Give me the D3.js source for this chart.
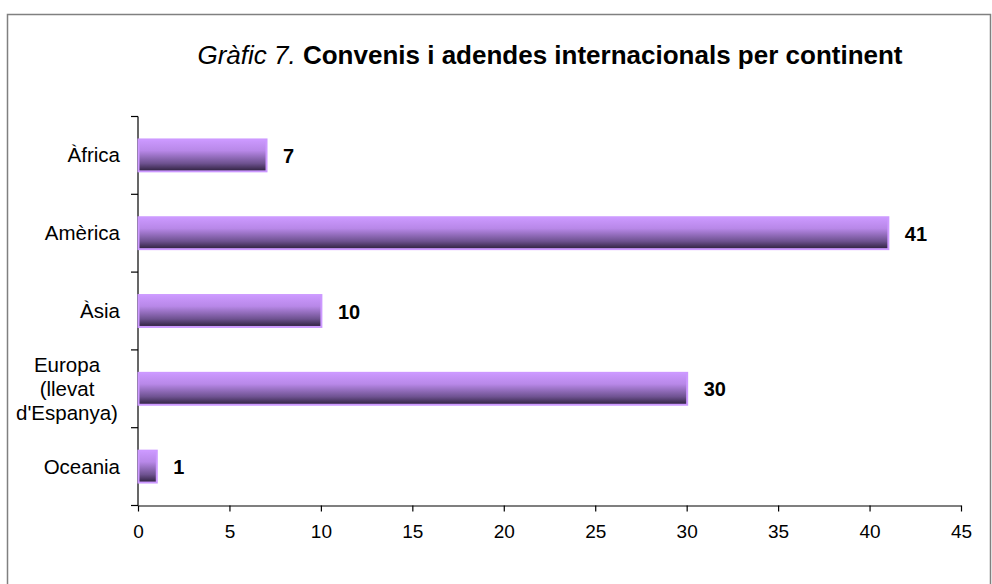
<!DOCTYPE html>
<html>
<head>
<meta charset="utf-8">
<script src="https://cdn.jsdelivr.net/npm/d3@7"></script>
<style>
  body { margin: 0; background: #fff; }
  svg text { font-family: "Liberation Sans", Arial, sans-serif; }
</style>
</head>
<body>
<div id="chart"></div>
<script>
const continents = ["Àfrica", "Amèrica", "Àsia", "Europa (llevat d'Espanya)", "Oceania"];
const agreements = [7, 41, 10, 30, 1];
const labelLines = [["Àfrica"], ["Amèrica"], ["Àsia"], ["Europa", "(llevat", "d'Espanya)"], ["Oceania"]];
const xTicks = [0, 5, 10, 15, 20, 25, 30, 35, 40, 45];

(function() {
    var width = 992, height = 584;
    var left = 138, right = 961, top = 116.5, bottom = 505.5;

    var svg = d3.select("#chart")
    .append("svg")
    .attr("width", width)
    .attr("height", height);

    // outer frame
    svg.append("path")
    .attr("d", "M7.5,584 V14.5 H990.5 V584")
    .attr("fill", "none")
    .attr("stroke", "#808080")
    .attr("stroke-width", 1.5);

    var defs = svg.append("defs");
    var grad = defs.append("linearGradient")
    .attr("id", "barGrad")
    .attr("x1", 0).attr("y1", 0).attr("x2", 0).attr("y2", 1);
    grad.append("stop").attr("offset", "0%").attr("stop-color", "#cc99ff");
    grad.append("stop").attr("offset", "35%").attr("stop-color", "#b888e8");
    grad.append("stop").attr("offset", "75%").attr("stop-color", "#6e5290");
    grad.append("stop").attr("offset", "100%").attr("stop-color", "#2c1f3c");

    var data = continents.map((c, i) => ({name: c, value: agreements[i], lines: labelLines[i]}));

    const xScale = d3.scaleLinear()
    .domain([0, 45])
    .range([left, right]);

    const yScale = d3.scaleBand()
    .domain(continents)
    .range([top, bottom])
    .paddingInner(0.59)
    .paddingOuter(0.295);

    // x axis
    svg.append("g")
    .attr("transform", `translate(0, ${bottom})`)
    .call(d3.axisBottom(xScale).tickValues(xTicks).tickSize(6).tickSizeOuter(0).tickPadding(13))
    .call(g => g.selectAll("text").attr("font-size", 19).attr("fill", "#000")
        .attr("font-family", "Liberation Sans, Arial, sans-serif"))
    .call(g => g.selectAll("line, path").attr("stroke", "#000").attr("stroke-width", 1.2));

    // y axis: line + ticks at band boundaries
    var step = (bottom - top) / continents.length;
    var ay = svg.append("g");
    ay.append("line")
    .attr("x1", left).attr("x2", left)
    .attr("y1", top).attr("y2", bottom)
    .attr("stroke", "#000").attr("stroke-width", 1.2);
    ay.selectAll(".tk")
    .data(d3.range(continents.length + 1))
    .enter().append("line")
    .attr("x1", left - 7).attr("x2", left)
    .attr("y1", i => top + i * step).attr("y2", i => top + i * step)
    .attr("stroke", "#000").attr("stroke-width", 1.2);

    // category labels
    data.forEach(function(d) {
        var cy = yScale(d.name) + yScale.bandwidth() / 2;
        var n = d.lines.length;
        var t = svg.append("text")
        .attr("font-size", 20.5)
        .attr("fill", "#000")
        .attr("text-anchor", n > 1 ? "middle" : "end");
        d.lines.forEach(function(l, j) {
            t.append("tspan")
            .attr("x", n > 1 ? 67 : 120)
            .attr("y", cy + 7 + (j - (n - 1) / 2) * 24)
            .text(l);
        });
    });

    // bars
    svg.selectAll(".bar")
    .data(data)
    .enter()
    .append("rect")
    .attr("x", xScale(0) + 0.5)
    .attr("y", d => yScale(d.name))
    .attr("width", d => xScale(d.value) - xScale(0))
    .attr("height", yScale.bandwidth())
    .attr("fill", "url(#barGrad)")
    .attr("stroke", "#cc99ff")
    .attr("stroke-width", 2);

    // values
    svg.selectAll(".val")
    .data(data)
    .enter()
    .append("text")
    .attr("x", d => xScale(d.value) + 17)
    .attr("y", d => yScale(d.name) + yScale.bandwidth() / 2 + 7.5)
    .attr("font-size", 20)
    .attr("font-weight", "bold")
    .attr("fill", "#000")
    .text(d => d.value);

    // title
    var title = svg.append("text")
    .attr("x", 550)
    .attr("y", 64)
    .attr("text-anchor", "middle")
    .attr("font-size", 26)
    .attr("fill", "#000");
    title.append("tspan").attr("font-style", "italic").text("Gràfic 7. ");
    title.append("tspan").attr("font-weight", "bold").text("Convenis i adendes internacionals per continent");
})();
</script>
</body>
</html>
